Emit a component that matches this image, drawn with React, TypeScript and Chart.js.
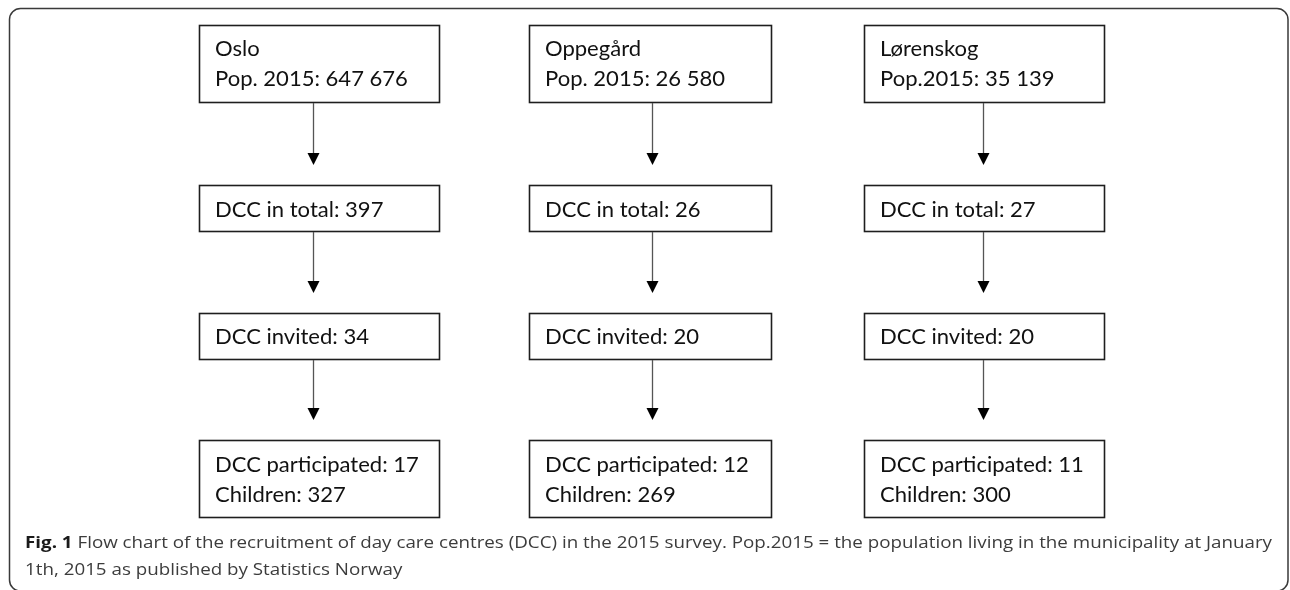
import React, { useEffect, useRef } from "react";
import { Chart, registerables } from "chart.js";

Chart.register(...registerables);

// ---- data ----
const municipalities = ["Oslo", "Oppegård", "Lørenskog"];
const popLabels = ["Pop. 2015", "Pop. 2015", "Pop.2015"];
const population = ["647 676", "26 580", "35 139"];
const dccTotal = [397, 26, 27];
const dccInvited = [34, 20, 20];
const dccParticipated = [17, 12, 11];
const children = [327, 269, 300];
const captionBold = "Fig. 1";
const captionLine1 =
  " Flow chart of the recruitment of day care centres (DCC) in the 2015 survey. Pop.2015 = the population living in the municipality at January";
const captionLine2 = "1th, 2015 as published by Statistics Norway";

// ---- layout (chart-space units, 1 unit = 1px) ----
const W = 1290;
const H = 590;
const colLeft = [199, 529, 864];
const colRight = [439, 771, 1104];
const arrowX = [313, 652, 983];
const rowTop = [25, 185, 313, 440];
const rowBottom = [102, 231, 359, 517];
const rowBaselines = [[56, 86], [217], [344], [472, 502]];

export default function App() {
  const ref = useRef<HTMLCanvasElement | null>(null);

  useEffect(() => {
    const prevMargin = document.body.style.margin;
    document.body.style.margin = "0";
    const canvas = ref.current!;
    const boxFontFamily = "Lato, 'Open Sans', sans-serif";
    const capFontFamily = "'Open Sans', Lato, sans-serif";

    const boxTexts: string[][][] = municipalities.map((m, i) => [
      [m, `${popLabels[i]}: ${population[i]}`],
      [`DCC in total: ${dccTotal[i]}`],
      [`DCC invited: ${dccInvited[i]}`],
      [`DCC participated: ${dccParticipated[i]}`, `Children: ${children[i]}`],
    ]);

    const flowPlugin = {
      id: "flow",
      afterDraw(chart: any) {
        const ctx: CanvasRenderingContext2D = chart.ctx;
        const xs = chart.scales.x;
        const ys = chart.scales.y;
        const px = (v: number) => xs.getPixelForValue(v);
        const py = (v: number) => ys.getPixelForValue(v);
        ctx.save();

        // outer frame
        ctx.strokeStyle = "#3a3a3a";
        ctx.lineWidth = 1.5;
        ctx.beginPath();
        ctx.roundRect(px(9.5), py(8.5), px(1288) - px(9.5), py(591) - py(8.5), 11);
        ctx.stroke();

        // box font size fit
        ctx.font = `20px ${boxFontFamily}`;
        const m = ctx.measureText("DCC participated: 17").width;
        const fs = (20 * 204) / m;
        const boxFont = `${fs.toFixed(2)}px ${boxFontFamily}`;

        for (let c = 0; c < municipalities.length; c++) {
          for (let r = 0; r < rowTop.length; r++) {
            const x0 = px(colLeft[c]);
            const x1 = px(colRight[c]);
            const y0 = py(rowTop[r]);
            const y1 = py(rowBottom[r]);
            ctx.fillStyle = "#ffffff";
            ctx.fillRect(x0, y0, x1 - x0, y1 - y0);
            ctx.strokeStyle = "#1e1e1e";
            ctx.lineWidth = 1.6;
            ctx.strokeRect(x0 + 0.5, y0 + 0.5, x1 - x0, y1 - y0);
            ctx.fillStyle = "#111111";
            ctx.font = boxFont;
            ctx.textBaseline = "alphabetic";
            ctx.textAlign = "left";
            const lines = boxTexts[c][r];
            lines.forEach((t, k) => {
              ctx.fillText(t, px(colLeft[c] + 16), py(rowBaselines[r][k]));
            });
            // arrow to next row
            if (r < rowTop.length - 1) {
              const ax = px(arrowX[c]) + 0.5;
              const tip = py(rowTop[r + 1] - 20);
              const headH = 12;
              const headW = 6;
              ctx.strokeStyle = "#555555";
              ctx.lineWidth = 1.3;
              ctx.beginPath();
              ctx.moveTo(ax, y1 + 1);
              ctx.lineTo(ax, tip - headH + 1);
              ctx.stroke();
              ctx.fillStyle = "#000000";
              ctx.beginPath();
              ctx.moveTo(ax - headW, tip - headH);
              ctx.lineTo(ax + headW, tip - headH);
              ctx.lineTo(ax, tip);
              ctx.closePath();
              ctx.fill();
            }
          }
        }

        // caption (condensed via horizontal scaling)
        const cfs = 16.5;
        ctx.font = `bold ${cfs}px ${capFontFamily}`;
        const wb = ctx.measureText(captionBold).width;
        ctx.font = `${cfs}px ${capFontFamily}`;
        const wr = ctx.measureText(captionLine1).width;
        const sx = (1272 - 25) / (wb + wr);
        ctx.save();
        ctx.translate(px(25), 0);
        ctx.scale(sx, 1);
        ctx.font = `bold ${cfs}px ${capFontFamily}`;
        ctx.fillStyle = "#1a1a1a";
        ctx.fillText(captionBold, 0, py(548));
        ctx.font = `${cfs}px ${capFontFamily}`;
        ctx.fillStyle = "#3c3c3c";
        ctx.fillText(captionLine1, wb, py(548));
        ctx.fillText(captionLine2, 0, py(575));
        ctx.restore();
        ctx.restore();
      },
    };

    const chart = new Chart(canvas, {
      type: "scatter",
      data: { datasets: [{ data: [], pointRadius: 0 }] },
      options: {
        animation: false,
        responsive: false,
        maintainAspectRatio: false,
        layout: { padding: 0 },
        plugins: { legend: { display: false }, tooltip: { enabled: false } },
        scales: {
          x: { type: "linear", min: 0, max: W, display: false },
          y: { type: "linear", min: 0, max: H, reverse: true, display: false },
        },
      },
      plugins: [flowPlugin],
    });

    return () => {
      chart.destroy();
      document.body.style.margin = prevMargin;
    };
  }, []);

  return (
    <div style={{ position: "absolute", left: 0, top: 0, width: W, height: H, background: "#fff" }}>
      <canvas ref={ref} width={W} height={H} style={{ display: "block", width: W, height: H }} />
    </div>
  );
}
